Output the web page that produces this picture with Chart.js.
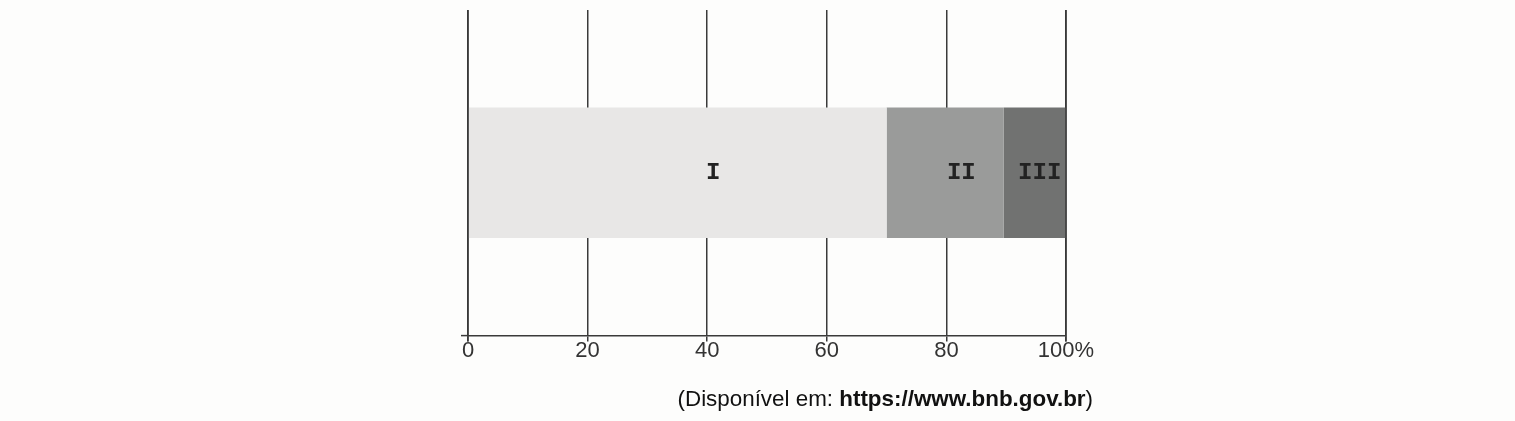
<!DOCTYPE html>
<html>
<head>
<meta charset="utf-8">
<script src="https://cdn.jsdelivr.net/npm/chart.js@4"></script>
<style>
  html, body { margin: 0; padding: 0; background: #fdfdfc; }
  #wrap { position: relative; width: 1515px; height: 421px; }
  #src { position: absolute; right: 422px; top: 386px; font-family: "Liberation Sans", Arial, sans-serif; font-size: 22.4px; color: #111; white-space: nowrap; }
</style>
</head>
<body>
<div id="wrap">
  <canvas id="c" width="1515" height="421"></canvas>
  <div id="src">(Disponível em: <b>https://www.bnb.gov.br</b>)</div>
</div>
<script>
const categories = [""];
const segmentNames = ["I", "II", "III"];
const segmentValues = [70, 19.6, 10.4];
const segmentColors = ["#e8e7e6", "#9a9b9a", "#717271"];
const labelAnchors = [41, 82.5, 95.6];
const tickValues = [0, 20, 40, 60, 80, 100];

const datasets = segmentNames.map((n, i) => ({
  label: n,
  data: [segmentValues[i]],
  backgroundColor: segmentColors[i],
  borderWidth: 0,
  barPercentage: 0.401,
  categoryPercentage: 1
}));

const overlay = {
  id: 'overlay',
  afterDatasetsDraw(chart) {
    const ctx = chart.ctx;
    const xs = chart.scales.x;
    const ys = chart.scales.y;
    const a = chart.chartArea;
    ctx.save();
    ctx.strokeStyle = '#3a3a3a';
    ctx.lineWidth = 1.5;
    [tickValues[0], tickValues[tickValues.length - 1]].forEach(v => {
      const px = xs.getPixelForValue(v);
      ctx.beginPath();
      ctx.moveTo(px, a.top);
      ctx.lineTo(px, a.bottom + 6);
      ctx.stroke();
    });
    ctx.beginPath();
    ctx.moveTo(a.left - 7, a.bottom);
    ctx.lineTo(a.left, a.bottom);
    ctx.stroke();
    ctx.fillStyle = '#222';
    ctx.font = 'bold 24px "Liberation Mono", "DejaVu Sans Mono", monospace';
    ctx.textAlign = 'center';
    ctx.textBaseline = 'middle';
    const cy = ys.getPixelForValue(0);
    segmentNames.forEach((n, i) => {
      ctx.fillText(n, xs.getPixelForValue(labelAnchors[i]), cy);
    });
    ctx.restore();
  }
};

new Chart(document.getElementById('c'), {
  type: 'bar',
  data: { labels: categories, datasets },
  options: {
    indexAxis: 'y',
    responsive: false,
    animation: false,
    devicePixelRatio: 1,
    layout: { padding: { left: 468, right: 449, top: 10, bottom: 61 } },
    plugins: { legend: { display: false }, tooltip: { enabled: false } },
    scales: {
      x: {
        stacked: true,
        min: 0, max: 100,
        afterBuildTicks(scale) { scale.ticks = tickValues.map(v => ({ value: v })); },
        ticks: {
          color: '#333',
          font: { family: '"Liberation Sans", Arial, sans-serif', size: 22 },
          padding: -4,
          callback: (v) => v === 100 ? v + '%' : String(v)
        },
        grid: { color: '#3a3a3a', lineWidth: 1.5, tickLength: 6, drawTicks: true },
        border: { display: true, color: '#3a3a3a', width: 1.5 }
      },
      y: {
        stacked: true,
        display: false
      }
    }
  },
  plugins: [overlay]
});
</script>
</body>
</html>
